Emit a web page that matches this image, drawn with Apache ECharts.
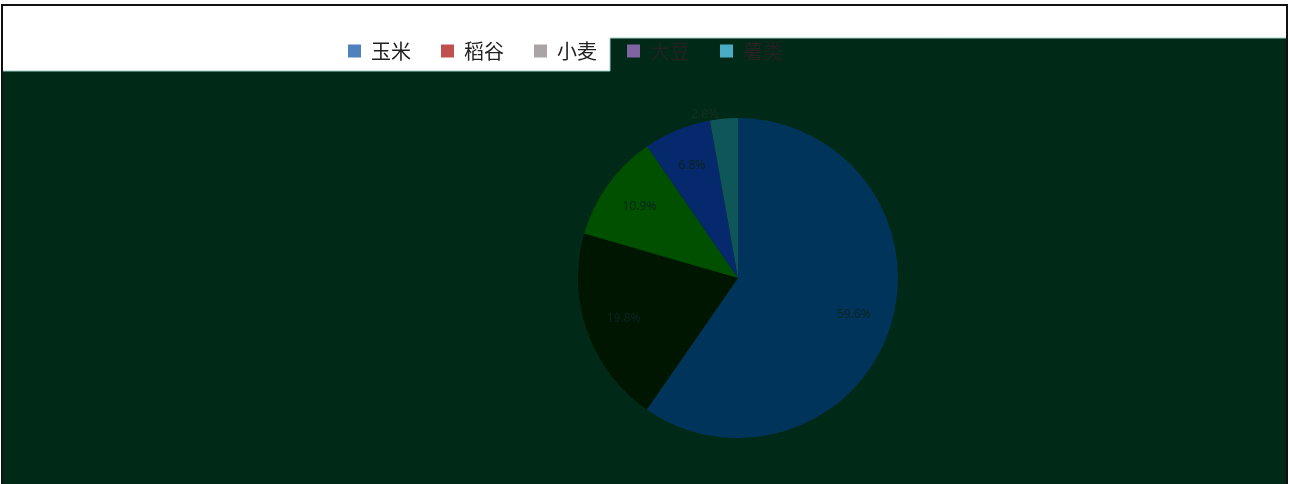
<!DOCTYPE html>
<html>
<head>
<meta charset="utf-8">
<script src="https://cdn.jsdelivr.net/npm/echarts@6/dist/echarts.min.js"></script>
<style>
html,body{margin:0;padding:0;background:#fff;}
#c{width:1290px;height:484px;}
</style>
</head>
<body>
<div id="c"></div>
<script>
const categories = ['玉米', '稻谷', '小麦', '大豆', '薯类'];
const values = [59.6, 19.8, 10.9, 6.8, 2.8];
const labelTexts = ['59.6%', '19.8%', '10.9%', '6.8%', '2.8%'];
const sliceColors = ['#00345a', '#001600', '#005000', '#06286c', '#0f5658'];
const legendColors = ['#4f81bd', '#c0504d', '#aaa4a4', '#8064a2', '#4bacc6'];

const chart = echarts.init(document.getElementById('c'));
const CX = 738, CY = 278, R = 160;

const mainData = categories.map((n, i) => ({
  name: n, value: values[i],
  itemStyle: { color: sliceColors[i] },
  label: i === 4 ? { show: true, position: 'outside', formatter: labelTexts[i], color: '#15301f', fontSize: 12 } : { show: false }
}));
const overlayData = categories.map((n, i) => ({
  name: n, value: values[i],
  label: { show: i !== 4, formatter: labelTexts[i] }
}));

chart.setOption({
  animation: false,
  backgroundColor: '#ffffff',
  graphic: [
    { type: 'rect', z: -10, shape: { x: 2, y: 71, width: 1285, height: 420 }, style: { fill: '#002a17' } },
    { type: 'rect', z: -10, shape: { x: 610, y: 38, width: 677, height: 34 }, style: { fill: '#002a17' } },
    { type: 'polyline', z: -9, shape: { points: [[2, 71], [610, 71], [610, 38], [1287, 38]] }, style: { stroke: '#9ccfc8', lineWidth: 1, fill: null } },
    { type: 'rect', z: 100, shape: { x: 2, y: 5, width: 1285, height: 490 }, style: { fill: null, stroke: '#111', lineWidth: 2 } }
  ],
  legend: {
    left: 343, top: 36,
    itemWidth: 13, itemHeight: 13, itemGap: 30,
    icon: 'rect',
    textStyle: { fontSize: 20, color: '#222', fontFamily: 'Noto Sans CJK SC', padding: [0, 0, 0, 5] },
    data: categories.map((n, i) => ({ name: n, itemStyle: { color: legendColors[i] } }))
  },
  series: [
    {
      type: 'pie', center: [CX, CY], radius: R,
      startAngle: 90, clockwise: true,
      data: mainData,
      labelLine: { show: false, length: 4, length2: 0 },
      itemStyle: { borderWidth: 0 },
      emphasis: { disabled: true }
    },
    {
      type: 'pie', center: [CX, CY], radius: [R * 0.48, R],
      startAngle: 90, clockwise: true, silent: true,
      data: overlayData,
      itemStyle: { color: 'rgba(0,0,0,0)', borderWidth: 0 },
      label: { position: 'inside', color: '#0a2420', fontSize: 12, fontFamily: 'Noto Sans' },
      labelLine: { show: false },
      emphasis: { disabled: true }
    }
  ]
});
</script>
</body>
</html>
